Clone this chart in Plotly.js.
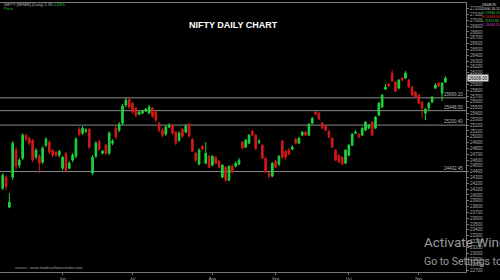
<!DOCTYPE html>
<html>
<head>
<meta charset="utf-8">
<script src="https://cdn.plot.ly/plotly-3.0.1.min.js"></script>
<style>html,body{margin:0;padding:0;background:#000;}#chart{width:500px;height:280px;}</style>
</head>
<body>
<div id="chart"></div>
<script>
// ---- data ----
const open = [24116,24306,23790,24306,24770,24512,24632,25028,24976,24942,
24650,24667,24564,24856,24908,24770,24736,24684,24460,24718,
24460,24598,24667,25131,25062,25097,25131,24374,24667,24925,
24718,24856,24718,24890,25148,25114,25234,25544,25647,25578,
25492,25389,25406,25441,25406,25492,25424,25234,25114,25045,
25166,25200,25080,24942,25131,25080,25217,24959,24718,24529,
24839,24546,24667,24512,24650,24581,24306,24478,24254,24495,
24495,24529,24908,24822,24890,25097,25028,24908,24856,24632,
24374,24323,24581,24529,24925,24753,24770,24787,24959,24890,
25028,25080,25028,25234,25424,25406,25234,25183,25097,24976,
24770,24684,24650,24546,24684,24856,25062,25045,25028,25114,
25148,25252,25148,25372,25510,25819,25905,26094,25940,25836,
26008,26008,25974,25854,25768,25716,25596,25406,25492,25596,
25836,25922,25750,25940];
const high = [24374,24340,24030,24925,24822,24632,25062,25045,24994,24959,
24804,24701,24839,24994,24942,24787,24753,24770,24667,24736,
24581,24718,24994,25166,25183,25148,25148,24684,24925,24942,
24770,24873,25097,24959,25183,25252,25561,25664,25664,25596,
25510,25441,25458,25492,25544,25510,25441,25252,25148,25200,
25234,25217,25097,25097,25148,25217,25234,24976,24736,24804,
24856,24908,24684,24684,24667,24598,24529,24495,24512,24529,
24581,24632,24925,24959,25045,25114,25045,24959,24873,24650,
24392,24564,24598,24684,24942,24770,24804,24856,24976,24994,
25097,25097,25234,25338,25441,25424,25252,25200,25114,24994,
24787,24701,24667,24787,24873,25062,25114,25062,25166,25269,
25217,25269,25355,25596,25733,25905,25922,26146,25957,25991,
26026,26129,25991,25871,25785,25733,25613,25492,25596,25699,
25922,25940,25940,26043];
const low = [24082,24082,23772,24254,24426,24460,24598,24925,24856,24564,
24615,24374,24529,24822,24701,24650,24650,24650,24426,24392,
24443,24564,24632,25011,25028,25062,24787,24340,24632,24753,
24701,24684,24684,24856,24959,25080,25200,25510,25475,25389,
25338,25372,25389,25424,25389,25320,25252,25080,24994,25011,
25148,25028,24856,24908,24976,25062,24994,24736,24564,24512,
24770,24529,24460,24495,24529,24460,24288,24220,24237,24374,
24478,24512,24787,24804,24873,25011,24770,24873,24615,24374,
24288,24306,24460,24495,24615,24598,24684,24770,24873,24873,
25011,25011,25011,25217,25372,25286,25131,25097,24976,24804,
24581,24546,24512,24529,24667,24839,25045,24976,25011,25097,
25131,25011,25131,25355,25492,25802,25854,25940,25768,25819,
25957,25991,25836,25699,25664,25561,25320,25286,25458,25578,
25819,25854,25613,25922];
const close = [24340,24151,23876,24890,24495,24598,25028,24959,24890,24598,
24770,24546,24804,24959,24736,24684,24684,24753,24650,24426,
24546,24684,24959,25045,25148,25114,24822,24650,24890,24787,
24753,24718,25062,24925,24994,25217,25527,25630,25510,25424,
25372,25424,25441,25475,25510,25355,25286,25114,25028,25166,
25200,25062,24890,25062,25011,25183,25011,24753,24598,24770,
24787,24718,24478,24667,24546,24478,24512,24254,24495,24392,
24546,24598,24804,24942,25028,25028,24804,24925,24632,24392,
24323,24546,24478,24667,24650,24650,24701,24822,24890,24976,
25080,25028,25217,25320,25389,25303,25148,25114,24994,24822,
24598,24564,24529,24770,24856,25045,25080,24994,25148,25252,
25200,25028,25338,25578,25716,25854,25871,25957,25785,25974,
25974,26094,25854,25716,25682,25578,25492,25475,25578,25682,
25888,25871,25922,26008];
const levels = [25669.20, 25448.50, 25200.40, 24402.45];
const monthTicks = [19, 40, 64, 83, 105, 126];
const monthLabels = ['Jun', 'Jul', 'Aug', 'Sep', 'Oct', 'Nov'];
const titleText = 'NIFTY DAILY CHART';
const infoLines = ['26008.35', '13:00 20.11', 'O 25940.10', 'H 26043.40', 'L 25922.80', 'C 26008.35'];
const infoColors = ['#e0e0e0', '#e0e0e0', '#33d04a', '#e03030', '#33d04a', '#d040d0'];
// ---------------------------------------

const x = open.map((_, i) => i + 1);
const GREEN = '#1fd33a', RED = '#d2181a';

const trace = {
  type: 'candlestick', x: x, open: open, high: high, low: low, close: close,
  increasing: {line: {color: GREEN, width: 1}, fillcolor: GREEN},
  decreasing: {line: {color: RED, width: 1}, fillcolor: RED},
  whiskerwidth: 0, hoverinfo: 'skip', showlegend: false
};

const shapes = levels.map(v => ({
  type: 'line', xref: 'paper', x0: 0, x1: 1, yref: 'y', y0: v, y1: v,
  line: {color: '#8c8c8c', width: 1}, layer: 'below'
}));

const tiny = {family: 'Liberation Sans, Arial, sans-serif', size: 4.5, color: '#b8b8b8'};
const annotations = levels.map(v => ({
  xref: 'paper', x: 0.998, yref: 'y', y: v, xanchor: 'right', yanchor: 'bottom',
  text: v.toFixed(2), showarrow: false, font: tiny, yshift: -1
}));

const last = close[close.length - 1];
annotations.push({
  xref: 'paper', x: 1.003, yref: 'y', y: last, xanchor: 'left', yanchor: 'middle',
  text: last.toFixed(2), showarrow: false, bgcolor: '#d9d9d9', borderpad: 0.5,
  font: {family: 'Liberation Sans, Arial, sans-serif', size: 4.5, color: '#000'}
});
annotations.push({
  xref: 'paper', x: 0.502, yref: 'paper', y: 0.918, xanchor: 'center', yanchor: 'middle',
  text: '<b>' + titleText + '</b>', showarrow: false,
  font: {family: 'Liberation Sans, Arial, sans-serif', size: 9, color: '#ffffff'}
});
annotations.push({
  xref: 'paper', x: 0.004, yref: 'paper', y: 0.996, xanchor: 'left', yanchor: 'middle',
  text: 'NIFTY [NFMM] (Daily) 1.35 <span style="color:#22c43a">0.63%</span>', showarrow: false,
  font: {family: 'Liberation Sans, Arial, sans-serif', size: 4, color: '#bfbfbf'}
});
annotations.push({
  xref: 'paper', x: 0.004, yref: 'paper', y: 0.978, xanchor: 'left', yanchor: 'middle',
  text: 'Price', showarrow: false,
  font: {family: 'Liberation Sans, Arial, sans-serif', size: 4, color: '#22c43a'}
});
annotations.push({
  xref: 'paper', x: 0.028, yref: 'paper', y: 0.015, xanchor: 'left', yanchor: 'middle',
  text: 'source : www.tradersoftwareindia.com', showarrow: false,
  font: {family: 'Liberation Sans, Arial, sans-serif', size: 4, color: '#a0a0a0'}
});
infoLines.forEach((t, k) => annotations.push({
  xref: 'paper', x: 1.029, yref: 'paper', y: (272 - 5 - k * 4) / 269, xanchor: 'left', yanchor: 'middle',
  text: t, showarrow: false, font: {family: 'Liberation Sans, Arial, sans-serif', size: 3.4, color: infoColors[k]}
}));
annotations.push({
  xref: 'paper', x: 422 / 466, yref: 'paper', y: (272 - 242) / 269, xanchor: 'left', yanchor: 'middle',
  text: 'Activate Windows', showarrow: false,
  font: {family: 'Roboto, sans-serif', size: 13.5, color: '#9a9a9a'}
});
annotations.push({
  xref: 'paper', x: 422 / 466, yref: 'paper', y: (272 - 261) / 269, xanchor: 'left', yanchor: 'middle',
  text: 'Go to Settings to activate Windows.', showarrow: false,
  font: {family: 'Roboto, sans-serif', size: 10.5, color: '#9a9a9a'}
});

const layout = {
  width: 500, height: 280,
  margin: {l: 0, r: 34, t: 3, b: 8},
  paper_bgcolor: '#000', plot_bgcolor: '#000',
  showlegend: false,
  xaxis: {
    range: [0.19, 140.19], rangeslider: {visible: false},
    showgrid: false, zeroline: false, showline: true, mirror: true, linecolor: '#777', linewidth: 1,
    tickvals: monthTicks, ticktext: monthLabels, ticks: 'outside', ticklen: 2, tickcolor: '#777',
    tickfont: {family: 'Liberation Sans, Arial, sans-serif', size: 4, color: '#aaa'}
  },
  yaxis: {
    side: 'right', range: [22677, 27298], dtick: 100, tick0: 0, tickformat: 'd',
    showgrid: false, zeroline: false, showline: true, linecolor: '#777', linewidth: 1,
    ticks: 'outside', ticklen: 2, tickcolor: '#777',
    tickfont: {family: 'Liberation Sans, Arial, sans-serif', size: 4.5, color: '#aaa'}
  },
  shapes: shapes,
  annotations: annotations
};

Plotly.newPlot('chart', [trace], layout, {displayModeBar: false, staticPlot: true});
</script>
</body>
</html>
